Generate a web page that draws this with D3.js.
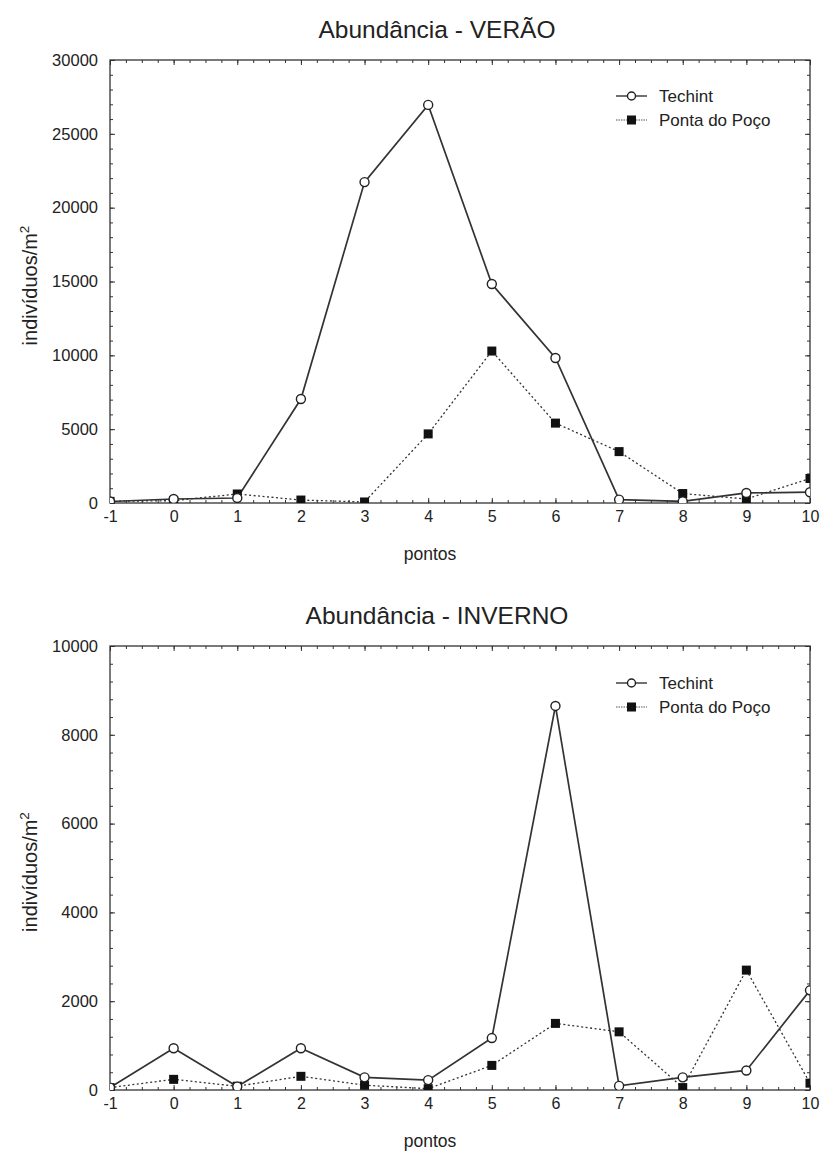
<!DOCTYPE html>
<html><head><meta charset="utf-8">
<script src="https://cdn.jsdelivr.net/npm/d3@7"></script>
<style>
html,body{margin:0;padding:0;background:#fff;}
text{font-family:"Liberation Sans",Arial,sans-serif;fill:#222;}
</style></head>
<body><svg id="c" width="822" height="1151"></svg>
<script>
const pontos = [-1, 0, 1, 2, 3, 4, 5, 6, 7, 8, 9, 10];
const xTicks = [-1, 0, 1, 2, 3, 4, 5, 6, 7, 8, 9, 10];
const seriesNames = ["Techint", "Ponta do Poço"];
const veraoTechint = [100, 270, 340, 7040, 21730, 26960, 14830, 9820, 230, 110, 680, 730];
const veraoPonta   = [110, 160, 610, 200, 70, 4680, 10290, 5410, 3480, 640, 270, 1660];
const veraoYTicks  = [0, 5000, 10000, 15000, 20000, 25000, 30000];
const invernoTechint = [54, 940, 77, 940, 285, 223, 1170, 8650, 92, 285, 440, 2245];
const invernoPonta   = [54, 240, 85, 308, 108, 30, 554, 1500, 1310, 54, 2700, 154];
const invernoYTicks  = [0, 2000, 4000, 6000, 8000, 10000];
const titles = ["Abundância - VERÃO", "Abundância - INVERNO"];
const xLabel = "pontos";

const svg = d3.select("#c");
const L = 110, R = 810;

function panel(idx, top, bottom, yTicks, minorStep, techint, ponta, legendY) {
  const g = svg.append("g");
  const x = d3.scaleLinear().domain([-1, 10]).range([L, R]);
  const yMax = yTicks[yTicks.length - 1];
  const y = d3.scaleLinear().domain([0, yMax]).range([bottom, top]);
  const clipId = "clip" + idx;
  g.append("clipPath").attr("id", clipId).append("rect")
    .attr("x", L).attr("y", top).attr("width", R - L).attr("height", bottom - top);

  g.append("text").attr("x", 437).attr("y", top - 22)
    .attr("text-anchor", "middle").style("font-size", "24.5px").text(titles[idx]);

  const minorX = d3.range(-1, 10.001, 0.25);
  const minorY = d3.range(0, yMax + 0.001, minorStep);
  const stroke = "#333";
  const mk = (axis, tr) => {
    const a = g.append("g").attr("transform", tr).call(axis);
    a.select(".domain").remove();
    a.selectAll("line").attr("stroke", stroke);
    return a;
  };
  mk(d3.axisBottom(x).tickValues(minorX).tickSize(-3).tickFormat(""), `translate(0,${bottom})`);
  mk(d3.axisTop(x).tickValues(minorX).tickSize(-3).tickFormat(""), `translate(0,${top})`);
  mk(d3.axisLeft(y).tickValues(minorY).tickSize(-3).tickFormat(""), `translate(${L},0)`);
  mk(d3.axisRight(y).tickValues(minorY).tickSize(-3).tickFormat(""), `translate(${R},0)`);
  const fmt = d => String(d);
  const xa = mk(d3.axisBottom(x).tickValues(xTicks).tickSize(-5).tickPadding(8).tickFormat(fmt), `translate(0,${bottom})`);
  xa.selectAll("text").style("font-size", "16px").attr("fill", "#222");
  mk(d3.axisTop(x).tickValues(xTicks).tickSize(-5).tickFormat(""), `translate(0,${top})`);
  const ya = mk(d3.axisLeft(y).tickValues(yTicks).tickSize(-5).tickPadding(12).tickFormat(fmt), `translate(${L},0)`);
  ya.selectAll("text").style("font-size", "16.5px").attr("fill", "#222");
  mk(d3.axisRight(y).tickValues(yTicks).tickSize(-5).tickFormat(""), `translate(${R},0)`);

  g.append("rect").attr("x", L).attr("y", top).attr("width", R - L).attr("height", bottom - top)
    .attr("fill", "none").attr("stroke", stroke).attr("stroke-width", 1.3);

  g.append("text").attr("x", 430).attr("y", bottom + 57)
    .attr("text-anchor", "middle").style("font-size", "17.5px").text(xLabel);
  const yl = g.append("text").attr("transform", `translate(37,${(top + bottom) / 2 + 4}) rotate(-90)`)
    .attr("text-anchor", "middle").style("font-size", "20px");
  yl.append("tspan").text("indivíduos/m");
  yl.append("tspan").attr("dy", -8).style("font-size", "13.5px").text("2");

  const pts = (vals) => pontos.map((p, i) => [p, vals[i]]);
  const line = d3.line().x(d => x(d[0])).y(d => y(d[1]));
  const plot = g.append("g").attr("clip-path", `url(#${clipId})`);
  plot.append("path").attr("d", line(pts(ponta))).attr("fill", "none")
    .attr("stroke", "#333").attr("stroke-width", 1.3).attr("stroke-dasharray", "2,2.5");
  plot.append("path").attr("d", line(pts(techint))).attr("fill", "none")
    .attr("stroke", "#333").attr("stroke-width", 1.7);
  plot.selectAll("rect.sq").data(pts(ponta)).join("rect").attr("class", "sq")
    .attr("x", d => x(d[0]) - 4.5).attr("y", d => y(d[1]) - 4.5)
    .attr("width", 9).attr("height", 9).attr("fill", "#111");
  plot.selectAll("circle").data(pts(techint)).join("circle")
    .attr("cx", d => x(d[0])).attr("cy", d => y(d[1])).attr("r", 4.5)
    .attr("fill", "#fff").attr("stroke", "#222").attr("stroke-width", 1.4);

  const lg = g.append("g");
  lg.append("line").attr("x1", 616).attr("x2", 647).attr("y1", legendY).attr("y2", legendY)
    .attr("stroke", "#333").attr("stroke-width", 1.4);
  lg.append("circle").attr("cx", 631.5).attr("cy", legendY).attr("r", 4)
    .attr("fill", "#fff").attr("stroke", "#222").attr("stroke-width", 1.4);
  lg.append("text").attr("x", 659).attr("y", legendY).attr("dy", "0.35em")
    .style("font-size", "17px").text(seriesNames[0]);
  const ly2 = legendY + 24;
  lg.append("line").attr("x1", 616).attr("x2", 647).attr("y1", ly2).attr("y2", ly2)
    .attr("stroke", "#555").attr("stroke-width", 1.2).attr("stroke-dasharray", "1.5,1");
  lg.append("rect").attr("x", 627).attr("y", ly2 - 4.5).attr("width", 9).attr("height", 9).attr("fill", "#111");
  lg.append("text").attr("x", 659).attr("y", ly2).attr("dy", "0.35em")
    .style("font-size", "17px").text(seriesNames[1]);
}

panel(0, 60, 503, veraoYTicks, 1000, veraoTechint, veraoPonta, 96);
panel(1, 646, 1090, invernoYTicks, 400, invernoTechint, invernoPonta, 683);
</script></body></html>
